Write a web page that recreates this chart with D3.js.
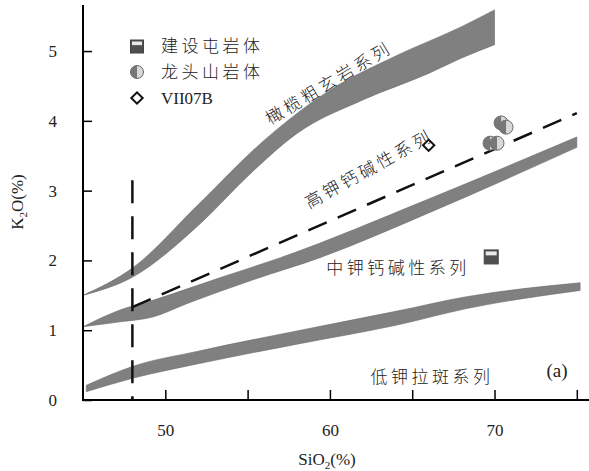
<!DOCTYPE html>
<html>
<head>
<meta charset="utf-8">
<script src="https://cdn.jsdelivr.net/npm/d3@7"></script>
<style>
  body { margin: 0; background: #fff; }
  text { font-family: "Liberation Serif", "Noto Sans CJK SC", serif; fill: #222; }
  .cjk { font-family: "Noto Sans CJK SC", sans-serif; font-weight: 300; }
</style>
</head>
<body>
<svg id="chart" width="589" height="471"></svg>
<script>
// series fields, [SiO2, K2O]
let shoUpper = [[45, 1.50], [48, 1.89], [52, 2.80], [56, 3.72], [60, 4.44], [64, 4.93], [68, 5.35], [70, 5.59]];
let shoLower = [[45, 1.50], [48, 1.76], [52, 2.50], [55.2, 3.25], [58, 3.82], [62, 4.30], [66, 4.68], [68, 4.90], [70, 5.09]];
let highUpper = [[45, 1.05], [47.25, 1.29], [49.25, 1.43], [53.3, 1.75], [57, 2.04], [66, 2.88], [75, 3.77]];
let highLower = [[45, 1.05], [47.25, 1.12], [49.25, 1.19], [51.3, 1.38], [55.3, 1.72], [59.4, 2.04], [66, 2.68], [75, 3.62]];
let medUpper = [[45.2, 0.21], [48, 0.48], [52, 0.70], [58, 0.99], [64, 1.27], [68.3, 1.48], [75.2, 1.68]];
let medLower = [[45.2, 0.12], [48, 0.31], [52, 0.52], [58, 0.80], [64, 1.07], [68.3, 1.31], [75.2, 1.57]];

let divideLine = [[48, 1.33], [75, 4.11]];
let verticalLine = [[48, 0], [48, 3.15]];

let jiansheData = [[69.8, 2.05]];
let longtouData = [[69.73, 3.68], [70.15, 3.68], [70.4, 3.97], [70.7, 3.91]];
let vii07bData = [[66.0, 3.65]];

let xTicks = [50, 55, 60, 65, 70, 75];
let xTickLabels = [50, 60, 70];
let yTicks = [0, 1, 2, 3, 4, 5];

let legendNames = ['建设屯岩体', '龙头山岩体', 'VII07B'];

let svg = d3.select('#chart');

let x = d3.scaleLinear().domain([45, 75.74]).range([83, 589]);
let y = d3.scaleLinear().domain([0, 5.66]).range([400, 5]);

let bandLine = d3.line()
    .x(d => x(d[0]))
    .y(d => y(d[1]))
    .curve(d3.curveMonotoneX);

let drawBand = (upper, lower) => {
    let back = lower.slice().reverse();
    svg.append('path')
        .attr('d', bandLine(upper) + 'L' + bandLine(back).slice(1) + 'Z')
        .attr('fill', '#808080')
        .attr('stroke', '#6a6a6a')
        .attr('stroke-width', 0.6);
};

drawBand(shoUpper, shoLower);
drawBand(highUpper, highLower);
drawBand(medUpper, medLower);

// dashed lines
let plainLine = d3.line().x(d => x(d[0])).y(d => y(d[1]));
svg.append('path')
    .attr('d', plainLine(divideLine))
    .attr('stroke', '#111')
    .attr('stroke-width', 2.5)
    .attr('stroke-dasharray', '20 12')
    .attr('fill', 'none');
svg.append('path')
    .attr('d', plainLine(verticalLine.slice().reverse()))
    .attr('stroke', '#111')
    .attr('stroke-width', 2.5)
    .attr('stroke-dasharray', '23 13')
    .attr('fill', 'none');

// axes
let xAxis = d3.axisBottom(x).tickValues(xTicks).tickSizeInner(-10).tickSizeOuter(0)
    .tickFormat(d => xTickLabels.includes(d) ? d : '');
let gx = svg.append('g').attr('transform', 'translate(0,400)').call(xAxis);
gx.select('.domain').attr('stroke-width', 2).attr('d', 'M83,0H589');
gx.selectAll('.tick line').attr('stroke-width', 1.5);
gx.selectAll('.tick text').attr('y', 24).attr('font-size', 17).style('font-family', 'Liberation Serif');

svg.append('line')
    .attr('x1', x(48)).attr('x2', x(48))
    .attr('y1', 400).attr('y2', 397)
    .attr('stroke', '#111').attr('stroke-width', 2);

let yAxis = d3.axisLeft(y).tickValues(yTicks).tickSizeInner(-9).tickSizeOuter(0)
    .tickFormat(d3.format('d'));
let gy = svg.append('g').attr('transform', 'translate(83,0)').call(yAxis);
gy.select('.domain').attr('stroke-width', 2).attr('d', 'M0,5V401');
gy.selectAll('.tick line').attr('stroke-width', 1.5);
gy.selectAll('.tick text').attr('x', -26).attr('font-size', 17).style('font-family', 'Liberation Serif');

// axis titles
let xTitle = svg.append('text')
    .attr('x', 327).attr('y', 465)
    .attr('text-anchor', 'middle')
    .attr('font-size', 17);
xTitle.append('tspan').text('SiO');
xTitle.append('tspan').attr('font-size', 11).attr('dy', 4).text('2');
xTitle.append('tspan').attr('dy', -4).text('(%)');

let yTitle = svg.append('text')
    .attr('transform', 'translate(23,202) rotate(-90)')
    .attr('text-anchor', 'middle')
    .attr('font-size', 17);
yTitle.append('tspan').text('K');
yTitle.append('tspan').attr('font-size', 11).attr('dy', 4).text('2');
yTitle.append('tspan').attr('dy', -4).text('O(%)');

// markers
let drawSquare = (g, cx, cy, s) => {
    g.append('rect')
        .attr('x', cx - s / 2).attr('y', cy - s / 2)
        .attr('width', s).attr('height', s)
        .attr('fill', '#4f4f4f').attr('stroke', '#444').attr('stroke-width', 1);
    g.append('rect')
        .attr('x', cx - s / 2 + 1.5).attr('y', cy - s / 2 + 1.5)
        .attr('width', s - 3).attr('height', s * 0.28)
        .attr('fill', '#e8e8e8');
};

let drawCircle = (g, cx, cy, r) => {
    g.append('circle').attr('cx', cx).attr('cy', cy).attr('r', r)
        .attr('fill', '#d8d8d8').attr('stroke', '#666').attr('stroke-width', 1);
    let arc = d3.arc().innerRadius(0).outerRadius(r).startAngle(Math.PI).endAngle(2 * Math.PI);
    g.append('path').attr('d', arc()).attr('transform', `translate(${cx},${cy})`)
        .attr('fill', '#777');
};

let drawDiamond = (g, cx, cy, s) => {
    g.append('path')
        .attr('d', d3.symbol().type(d3.symbolSquare).size(s * s)())
        .attr('transform', `translate(${cx},${cy}) rotate(45)`)
        .attr('fill', '#fff').attr('stroke', '#111').attr('stroke-width', 2);
};

let pts = svg.append('g');
jiansheData.forEach(d => drawSquare(pts, x(d[0]), y(d[1]), 14));
longtouData.forEach(d => drawCircle(pts, x(d[0]), y(d[1]), 7));
vii07bData.forEach(d => drawDiamond(pts, x(d[0]), y(d[1]), 8));

// legend
let legend = svg.append('g');
drawSquare(legend, 137, 46.5, 13);
drawCircle(legend, 137, 72, 6.5);
drawDiamond(legend, 137, 98, 8);
legendNames.forEach((name, i) => {
    legend.append('text')
        .attr('x', 161).attr('y', 46 + i * 26)
        .attr('dy', '0.35em')
        .attr('font-size', 17)
        .attr('letter-spacing', i < 2 ? 3.5 : 0)
        .attr('class', i < 2 ? 'cjk' : null)
        .text(name);
});

// series labels
let seriesLabel = (txt, cx, cy, angle) => {
    svg.append('text')
        .attr('class', 'cjk')
        .attr('transform', `translate(${cx},${cy}) rotate(${angle})`)
        .attr('text-anchor', 'middle')
        .attr('dy', '0.35em')
        .attr('font-size', 17)
        .attr('letter-spacing', 3.5)
        .text(txt);
};
seriesLabel('橄榄粗玄岩系列', 329, 83, -31);
seriesLabel('高钾钙碱性系列', 369, 169, -29);
seriesLabel('中钾钙碱性系列', 398, 268, 0);
seriesLabel('低钾拉斑系列', 432, 377, 0);

svg.append('text')
    .attr('x', 557).attr('y', 370)
    .attr('text-anchor', 'middle')
    .attr('dy', '0.35em')
    .attr('font-size', 19)
    .text('(a)');
</script>
</body>
</html>
